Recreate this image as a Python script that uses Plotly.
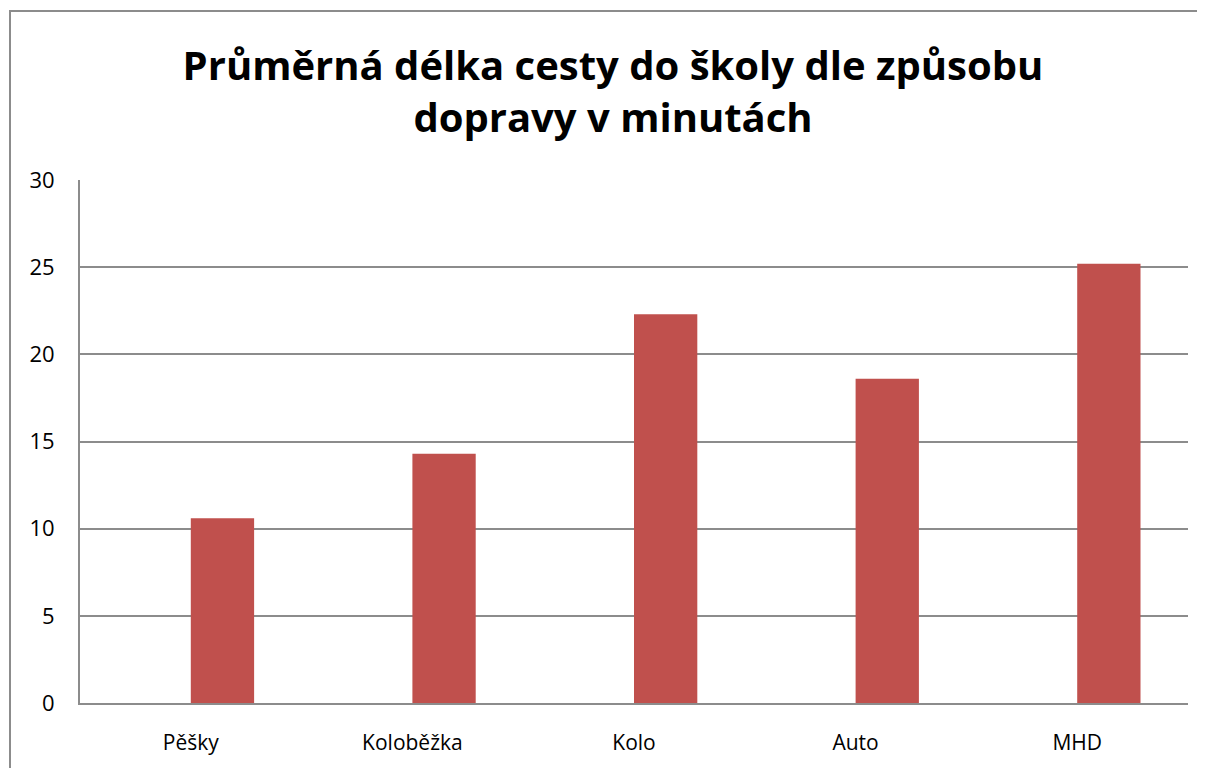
import plotly.graph_objects as go

# ---- Data -----------------------------------------------------------
categories = ["Pěšky", "Koloběžka", "Kolo", "Auto", "MHD"]
minutes = [10.6, 14.3, 22.3, 18.6, 25.2]
y_ticks = [0, 5, 10, 15, 20, 25, 30]

# ---- Style tokens ---------------------------------------------------
BAR = "#C0504D"
LINE = "#8C8C8C"
FONT = "Open Sans, Noto Sans, sans-serif"

# page body adds an 8px margin, so the figure is laid out 8px up/left
OFF = 8
W, H = 1205 - OFF, 768 - OFF
L, T = 80 - OFF, 180 - OFF
PW, PH = 1108, 526
R, B = W - L - PW, H - T - PH

fig = go.Figure(go.Bar(
    x=categories, y=minutes,
    marker=dict(color=BAR, line=dict(width=0)),
    width=0.2857, offset=0.0,
    hovertemplate="<b>%{x}</b><br>%{y} min<extra></extra>",
))

# outer chart-area frame (extends past the window on right/bottom)
fig.add_shape(
    type="rect", xref="paper", yref="paper",
    x0=(10 - OFF - L) / PW, x1=(W + 20 - L) / PW,
    y0=(T + PH - (H + 20)) / PH, y1=(T + PH - (10 - OFF)) / PH,
    line=dict(color=LINE, width=2), fillcolor="rgba(0,0,0,0)", layer="below",
)

fig.update_layout(
    width=W, height=H,
    margin=dict(l=L, r=R, t=T, b=B),
    paper_bgcolor="white", plot_bgcolor="white",
    font=dict(family=FONT, color="#000000", size=22),
    showlegend=False,
    title=dict(
        text="Průměrná délka cesty do školy dle způsobu<br>dopravy v minutách",
        x=(613 - OFF) / W, xanchor="center",
        y=1 - (80 - OFF) / H, yanchor="middle",
        font=dict(family=FONT, size=40, color="#000000", weight="bold"),
    ),
)
fig.update_xaxes(
    showline=True, linecolor=LINE, linewidth=2,
    showgrid=False, ticks="", ticklabelstandoff=20,
    tickfont=dict(size=21),
)
fig.update_yaxes(
    range=[0, 30], tickvals=y_ticks,
    showline=True, linecolor=LINE, linewidth=2,
    showgrid=True, gridcolor=LINE, gridwidth=2,
    zeroline=False, ticks="", ticklabelstandoff=19,
    tickfont=dict(size=22),
)

fig.write_html("out.html")
